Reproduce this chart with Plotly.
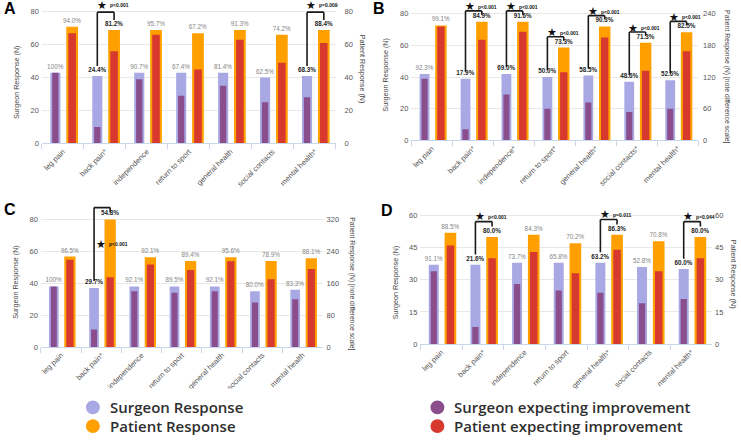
import plotly.graph_objects as go

W, H = 741, 441

# ---------------- data ----------------
cats_A = ["leg pain", "back pain*", "independence", "return to sport", "general health", "social contacts", "mental health*"]
A_surgeon_resp = [43, 41, 43, 43, 43, 40, 41]
A_surgeon_exp = [43, 10, 39, 29, 35, 25, 28]
A_patient_resp = [71, 69, 69, 67, 69, 66, 69]
A_patient_exp = [67, 56, 66, 45, 63, 49, 61]
A_surgeon_pct = ["100%", "24.4%", "90.7%", "67.4%", "81.4%", "62.5%", "68.3%"]
A_patient_pct = ["94.0%", "81.2%", "95.7%", "67.2%", "91.3%", "74.2%", "88.4%"]
A_sig = [0, 1, 0, 0, 0, 0, 1]
A_pvals = {1: "p<0.001", 6: "p=0.009"}
A_left_ticks = [0, 20, 40, 60, 80]
A_right_ticks = [0, 20, 40, 60, 80]

cats_B = ["leg pain", "back pain*", "independence*", "return to sport*", "general health*", "social contacts*", "mental health*"]
B_surgeon_resp = [42, 39, 42, 40, 41, 37, 38]
B_surgeon_exp = [39, 7, 29, 20, 24, 18, 20]
B_patient_resp = [218, 225, 225, 176, 216, 185, 205]
B_patient_exp = [216, 191, 206, 129, 195, 132, 169]
B_surgeon_pct = ["92.3%", "17.9%", "69.0%", "50.0%", "58.5%", "48.6%", "52.6%"]
B_patient_pct = ["99.1%", "84.9%", "91.6%", "73.3%", "90.3%", "71.3%", "82.5%"]
B_sig = [0, 1, 1, 1, 1, 1, 1]
B_pvals = {1: "p<0.001", 2: "p<0.001", 3: "p<0.001", 4: "p<0.001", 5: "p<0.001", 6: "p<0.001"}
B_left_ticks = [0, 20, 40, 60, 80]
B_right_ticks = [0, 60, 120, 180, 240]

cats_C = ["leg pain", "back pain*", "independence", "return to sport", "general health", "social contacts", "mental health"]
C_surgeon_resp = [38, 37, 38, 38, 38, 35, 36]
C_surgeon_exp = [38, 11, 35, 34, 35, 28, 30]
C_patient_resp = [227, 320, 225, 216, 225, 216, 223]
C_patient_exp = [219, 175, 207, 193, 215, 170, 196]
C_surgeon_pct = ["100%", "29.7%", "92.1%", "89.5%", "92.1%", "80.0%", "83.3%"]
C_patient_pct = ["96.5%", "54.8%", "92.1%", "89.4%", "95.6%", "78.9%", "88.1%"]
C_sig = [0, 1, 0, 0, 0, 0, 0]
C_pvals = {1: "p<0.001"}
C_left_ticks = [0, 20, 40, 60, 80]
C_right_ticks = [0, 80, 160, 240, 320]

cats_D = ["leg pain", "back pain*", "independence", "return to sport", "general health*", "social contacts", "mental health*"]
D_surgeon_resp = [37, 37, 38, 38, 38, 36, 35]
D_surgeon_exp = [34, 8, 28, 25, 24, 19, 21]
D_patient_resp = [52, 50, 51, 47, 51, 48, 50]
D_patient_exp = [46, 40, 43, 33, 44, 34, 40]
D_surgeon_pct = ["91.1%", "21.6%", "73.7%", "65.8%", "63.2%", "52.8%", "60.0%"]
D_patient_pct = ["88.5%", "80.0%", "84.3%", "70.2%", "86.3%", "70.8%", "80.0%"]
D_sig = [0, 1, 0, 0, 1, 0, 1]
D_pvals = {1: "p<0.001", 4: "p=0.011", 6: "p=0.044"}
D_left_ticks = [0, 15, 30, 45, 60]
D_right_ticks = [0, 15, 30, 45, 60]

legend_labels = ["Surgeon Response", "Patient Response", "Surgeon expecting improvement", "Patient expecting improvement"]

# ---------------- style ----------------
LIGHT = "#a8a8e4"
DARK = "#8b4e8d"
ORANGE = "#ffa000"
RED = "#d7392e"
FONT = "Liberation Sans, Arial, sans-serif"

panels = [
    dict(letter="A", cats=cats_A, sr=A_surgeon_resp, se=A_surgeon_exp, pr=A_patient_resp, pe=A_patient_exp,
         spct=A_surgeon_pct, ppct=A_patient_pct, sig=A_sig, pvals=A_pvals, lt=A_left_ticks, rt=A_right_ticks,
         px=(41, 335), bottom=145, ppu=1.6625, prange=86, srange=86, pads=(10, 8, 7), star="top",
         rtitle="Patient Response (N)", rstand=8, letter_xy=(1, 9),
         ltitle_xy=(15, 83), rtitle_xy=(362, 70), rsize=7.2),
    dict(letter="B", cats=cats_B, sr=B_surgeon_resp, se=B_surgeon_exp, pr=B_patient_resp, pe=B_patient_exp,
         spct=B_surgeon_pct, ppct=B_patient_pct, sig=B_sig, pvals=B_pvals, lt=B_left_ticks, rt=B_right_ticks,
         px=(411, 698), bottom=142, ppu=1.6, prange=88, srange=264, pads=(7, 4, 4), star="top",
         rtitle="Patient Response (N) [note difference scale]", rstand=4, letter_xy=(371, 9),
         ltitle_xy=(385, 75), rtitle_xy=(727, 77), rsize=6.8),
    dict(letter="C", cats=cats_C, sr=C_surgeon_resp, se=C_surgeon_exp, pr=C_patient_resp, pe=C_patient_exp,
         spct=C_surgeon_pct, ppct=C_patient_pct, sig=C_sig, pvals=C_pvals, lt=C_left_ticks, rt=C_right_ticks,
         px=(40, 322), bottom=351, ppu=1.6125, prange=89, srange=356, pads=(7, 5, 5), star="side",
         rtitle="Patient Response (N) [note difference scale]", rstand=3, letter_xy=(1, 212),
         ltitle_xy=(15, 285), rtitle_xy=(352, 287), rsize=6.8),
    dict(letter="D", cats=cats_D, sr=D_surgeon_resp, se=D_surgeon_exp, pr=D_patient_resp, pe=D_patient_exp,
         spct=D_surgeon_pct, ppct=D_patient_pct, sig=D_sig, pvals=D_pvals, lt=D_left_ticks, rt=D_right_ticks,
         px=(420, 712), bottom=348, ppu=2.1667, prange=62, srange=62, pads=(10.5, 5, 5), star="top",
         rtitle="Patient Response (N)", rstand=2, letter_xy=(379, 213),
         ltitle_xy=(395, 285), rtitle_xy=(733, 277), rsize=7.2),
]

L_OFF, L_W = -0.30, 0.24
DK_W = 0.15
O_OFF, O_W = 0.08, 0.28
R_W = 0.18
L_C = L_OFF + L_W / 2
O_C = O_OFF + O_W / 2

fig = go.Figure()
shapes = []
annotations = []
layout = {}


def px2x(px):
    return px / W


def px2y(py):
    return 1 - py / H


for n, p in enumerate(panels, start=1):
    xa = "x" if n == 1 else f"x{n}"
    ya = "y" if n == 1 else f"y{n}"
    ya2 = f"y{n + 4}"
    top_px = p["bottom"] - p["prange"] * p["ppu"]
    xdom = [px2x(p["px"][0]), px2x(p["px"][1])]
    ydom = [px2y(p["bottom"]), px2y(top_px)]
    ppu_s = p["ppu"] * p["prange"] / p["srange"]

    s_text = [f"<b>{t}</b>" if s else t for t, s in zip(p["spct"], p["sig"])]
    p_text = [f"<b>{t}</b>" if s else t for t, s in zip(p["ppct"], p["sig"])]
    tcol = ["#1e1e1e" if s else "#858585" for s in p["sig"]]

    common = dict(xaxis=xa, showlegend=False, hoverinfo="y", marker_line_width=0)
    fig.add_trace(go.Bar(x=p["cats"], y=p["sr"], yaxis=ya, offset=L_OFF, width=L_W, marker_color=LIGHT,
                         text=s_text, textposition="outside", textangle=0, constraintext="none",
                         cliponaxis=False, textfont=dict(size=6.3, color=tcol, family=FONT), **common))
    fig.add_trace(go.Bar(x=p["cats"], y=p["se"], yaxis=ya, offset=L_C - DK_W / 2, width=DK_W,
                         marker_color=DARK, **common))
    fig.add_trace(go.Bar(x=p["cats"], y=p["pr"], yaxis=ya2, offset=O_OFF, width=O_W, marker_color=ORANGE,
                         text=p_text, textposition="outside", textangle=0, constraintext="none",
                         cliponaxis=False, textfont=dict(size=6.3, color=tcol, family=FONT), **common))
    fig.add_trace(go.Bar(x=p["cats"], y=p["pe"], yaxis=ya2, offset=O_C - R_W / 2, width=R_W,
                         marker_color=RED, **common))

    layout["xaxis" if n == 1 else f"xaxis{n}"] = dict(
        domain=xdom, anchor=ya, type="category", range=[-0.5, len(p["cats"]) - 0.5],
        showline=True, linecolor="#ccd6eb", linewidth=1, ticks="outside", tickson="boundaries",
        ticklen=5, tickcolor="#ccd6eb", tickangle=-45, showgrid=False, zeroline=False,
        tickfont=dict(size=7.5, color="#555555", family=FONT))
    layout["yaxis" if n == 1 else f"yaxis{n}"] = dict(
        domain=ydom, anchor=xa, range=[0, p["prange"]], tickvals=p["lt"], showgrid=True,
        gridcolor="#e8e8e8", gridwidth=1, zeroline=False, showline=False, ticks="",
        ticklabelstandoff=2, tickfont=dict(size=7.5, color="#555555", family=FONT))
    layout[f"yaxis{n + 4}"] = dict(
        overlaying=ya, side="right", anchor=xa, range=[0, p["srange"]], tickvals=p["rt"],
        showgrid=False, zeroline=False, showline=False, ticks="", ticklabelstandoff=p["rstand"],
        tickfont=dict(size=7.5, color="#555555", family=FONT))

    # significance brackets (secondary-axis units)
    bp, tg, sg = p["pads"]
    for i, ptxt in p["pvals"].items():
        k = p["srange"] / p["prange"]
        xl = i + L_C
        xr = i + O_C
        yl = p["sr"][i] * k + bp / ppu_s
        yr = p["pr"][i] + bp / ppu_s
        yt = max(yl, yr) + tg / ppu_s
        for (x0, y0, x1, y1) in [(xl, yl, xl, yt), (xl, yt, xr, yt), (xr, yt, xr, yr)]:
            shapes.append(dict(type="line", xref=xa, yref=ya2, x0=x0, y0=y0, x1=x1, y1=y1,
                               line=dict(color="#1a1a1a", width=1.6)))
        if p["star"] == "top":
            xm = (xl + xr) / 2
            ys = yt + sg / ppu_s
            annotations.append(dict(xref=xa, yref=ya2, x=xm, y=ys, text="★", showarrow=False,
                                    xanchor="right", yanchor="middle", xshift=3,
                                    font=dict(size=11, color="#111", family="DejaVu Sans")))
            annotations.append(dict(xref=xa, yref=ya2, x=xm, y=ys, text=f"<b>{ptxt}</b>", showarrow=False,
                                    xanchor="left", yanchor="middle", xshift=2,
                                    font=dict(size=5, color="#111", family=FONT)))
        else:
            ys = (yl + yt) / 2
            annotations.append(dict(xref=xa, yref=ya2, x=xl, y=ys, text="★", showarrow=False,
                                    xanchor="center", yanchor="middle", xshift=7,
                                    font=dict(size=11, color="#111", family="DejaVu Sans")))
            annotations.append(dict(xref=xa, yref=ya2, x=xl, y=ys, text=f"<b>{ptxt}</b>", showarrow=False,
                                    xanchor="left", yanchor="middle", xshift=13,
                                    font=dict(size=5, color="#111", family=FONT)))

    # panel letter
    annotations.append(dict(xref="paper", yref="paper", x=px2x(p["letter_xy"][0]), y=px2y(p["letter_xy"][1]),
                            text=f"<b>{p['letter']}</b>", showarrow=False, xanchor="left", yanchor="middle",
                            font=dict(size=16, color="#000", family=FONT)))
    # axis titles
    annotations.append(dict(xref="paper", yref="paper", x=px2x(p["ltitle_xy"][0]), y=px2y(p["ltitle_xy"][1]),
                            text="Surgeon Response (N)", showarrow=False, textangle=-90,
                            xanchor="center", yanchor="middle",
                            font=dict(size=7.2, color="#444", family=FONT)))
    annotations.append(dict(xref="paper", yref="paper", x=px2x(p["rtitle_xy"][0]), y=px2y(p["rtitle_xy"][1]),
                            text=p["rtitle"], showarrow=False, textangle=90,
                            xanchor="center", yanchor="middle",
                            font=dict(size=p["rsize"], color="#444", family=FONT)))

# white band that hides the lower tick labels (as in the reference)
shapes.append(dict(type="rect", xref="paper", yref="paper", x0=0, x1=1, y0=0, y1=px2y(393),
                   fillcolor="white", line=dict(width=0), layer="above"))

# legend: circles + text
leg_colors = [LIGHT, ORANGE, DARK, RED]
leg_pos = [(92, 412), (92, 431), (437, 412), (437, 431)]
for lab, col, (cx, cy) in zip(legend_labels, leg_colors, leg_pos):
    r = 7
    shapes.append(dict(type="circle", xref="paper", yref="paper",
                       x0=px2x(cx - r), x1=px2x(cx + r), y0=px2y(cy + r), y1=px2y(cy - r),
                       fillcolor=col, line=dict(width=0), layer="above"))
    annotations.append(dict(xref="paper", yref="paper", x=px2x(cx + 15), y=px2y(cy), text=lab,
                            showarrow=False, xanchor="left", yanchor="middle",
                            font=dict(size=15, color="#2e2e2e", family="Open Sans, sans-serif", weight=600)))

fig.update_layout(
    width=W, height=H, margin=dict(l=0, r=0, t=0, b=0),
    paper_bgcolor="white", plot_bgcolor="white", barmode="overlay", showlegend=False,
    font=dict(family=FONT, color="#555"),
    shapes=shapes, annotations=annotations, **layout)

fig.write_html("out.html", config={"displayModeBar": False},
               post_script="document.body.style.margin='0';document.body.style.overflow='hidden';")
